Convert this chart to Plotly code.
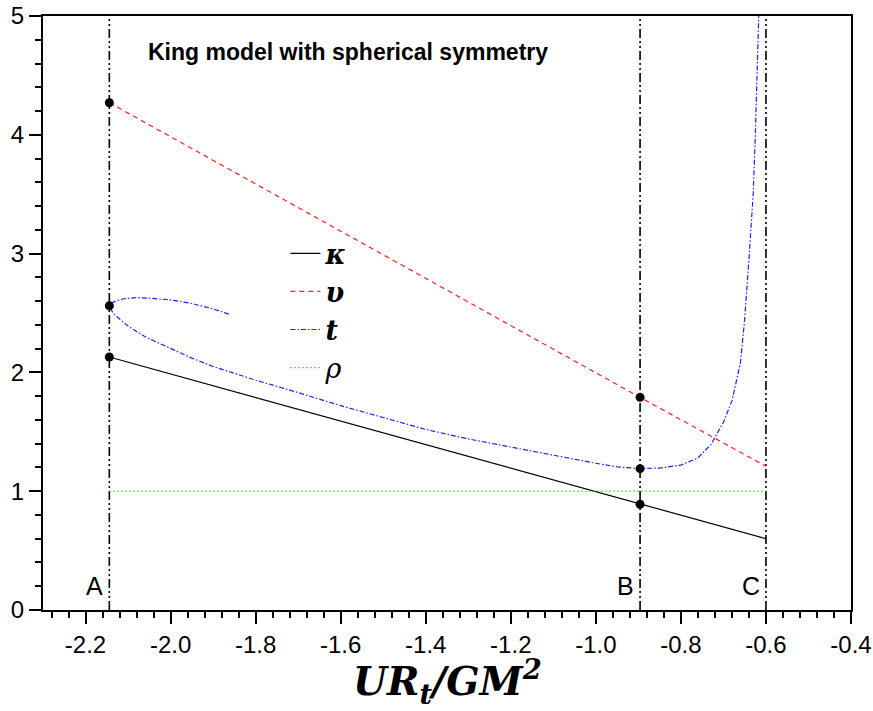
import plotly.graph_objects as go

# ---- data ----
x_A, x_B, x_C = -2.144, -0.896, -0.6
vline_x = [x_A, x_B, x_C]
vline_labels = ["A", "B", "C"]

kappa_x = [-2.144, -0.896, -0.6]
kappa_y = [2.13, 0.89, 0.60]

upsilon_x = [-2.144, -0.896, -0.6]
upsilon_y = [4.27, 1.79, 1.21]

rho_x = [-2.144, -0.6]
rho_y = [1.0, 1.0]

t_x = [-1.863, -1.90, -1.95, -2.00, -2.05, -2.08, -2.11, -2.13, -2.14, -2.144,
       -2.14, -2.135, -2.12, -2.10, -2.06, -2.00, -1.95, -1.90, -1.85, -1.80,
       -1.70, -1.60, -1.50, -1.40, -1.30, -1.20, -1.10, -1.00, -0.95, -0.896,
       -0.85, -0.80, -0.76, -0.73, -0.70, -0.68, -0.66, -0.65, -0.64, -0.63,
       -0.625, -0.62, -0.617]
t_y = [2.49, 2.535, 2.58, 2.61, 2.625, 2.63, 2.62, 2.60, 2.58, 2.56,
       2.53, 2.50, 2.45, 2.39, 2.30, 2.20, 2.12, 2.05, 1.99, 1.935,
       1.83, 1.72, 1.62, 1.52, 1.44, 1.37, 1.30, 1.235, 1.205, 1.19,
       1.195, 1.22, 1.28, 1.39, 1.58, 1.76, 2.08, 2.45, 2.95, 3.5,
       4.0, 4.6, 5.0]

dot_x = [x_A, x_A, x_A, x_B, x_B, x_B]
dot_y = [2.13, 2.56, 4.27, 0.89, 1.19, 1.79]

x_ticks = [-2.2, -2.0, -1.8, -1.6, -1.4, -1.2, -1.0, -0.8, -0.6, -0.4]
x_ticktext = ["-2.2", "-2.0", "-1.8", "-1.6", "-1.4", "-1.2", "-1.0", "-0.8", "-0.6", "-0.4"]
y_ticks = [0, 1, 2, 3, 4, 5]

fig = go.Figure()

# vertical reference lines
for vx in vline_x:
    fig.add_shape(type="line", xref="x", yref="y", x0=vx, x1=vx, y0=0, y1=5,
                  line=dict(color="black", width=1.6, dash="9px,3px,2px,3px,2px,3px"),
                  layer="below")

serif = "DejaVu Serif"
fig.add_trace(go.Scatter(x=kappa_x, y=kappa_y, mode="lines", name="<b><i>κ</i></b>",
                         line=dict(color="black", width=1.2)))
fig.add_trace(go.Scatter(x=upsilon_x, y=upsilon_y, mode="lines", name="<b><i>υ</i></b>",
                         line=dict(color="#ff2020", width=1.2, dash="5px,4px")))
fig.add_trace(go.Scatter(x=t_x, y=t_y, mode="lines", name="<b><i>t</i></b>",
                         line=dict(color="#2020ff", width=1.2, dash="5px,2px,1.5px,2px")))
fig.add_trace(go.Scatter(x=rho_x, y=rho_y, mode="lines", name="<i>ρ</i>",
                         line=dict(color="#20e020", width=1.3, dash="1.5px,2.5px")))
fig.add_trace(go.Scatter(x=dot_x, y=dot_y, mode="markers", showlegend=False,
                         marker=dict(color="black", size=9)))

for vx, lab in zip(vline_x, vline_labels):
    fig.add_annotation(x=vx, y=0.2, xref="x", yref="y", text=lab, showarrow=False,
                       xanchor="right", yanchor="middle", xshift=-4,
                       font=dict(family="Liberation Sans", size=25, color="black"))

fig.add_annotation(x=0.1275, y=0.939, xref="paper", yref="paper",
                   text="<b>King model with spherical symmetry</b>", showarrow=False,
                   xanchor="left", yanchor="middle",
                   font=dict(family="Liberation Sans", size=23, color="black"))

# x-axis title
fig.add_annotation(x=0.5, y=-0.12, xref="paper", yref="paper",
                   text="<b><i>UR<sub>t</sub>/GM<sup>2</sup></i></b>", showarrow=False,
                   xanchor="center", yanchor="middle",
                   font=dict(family=serif, size=39, color="black"))

axis_common = dict(showline=True, linewidth=2, linecolor="black", mirror=True,
                   ticks="outside", ticklen=12, tickwidth=1.6, tickcolor="black",
                   showgrid=False, zeroline=False, automargin=False,
                   ticklabeloverflow="allow",
                   tickfont=dict(family="Liberation Sans", size=24, color="black"))

fig.update_layout(
    width=873, height=711,
    margin=dict(l=43, r=22, t=16, b=101),
    paper_bgcolor="white", plot_bgcolor="white",
    xaxis=dict(range=[-2.3, -0.4], tickvals=x_ticks, ticktext=x_ticktext,
               minor=dict(dtick=0.04, tick0=-2.2, ticks="outside", ticklen=6,
                          tickwidth=1.6, tickcolor="black"),
               **axis_common),
    yaxis=dict(range=[0, 5], tickvals=y_ticks,
               minor=dict(dtick=0.2, tick0=0, ticks="outside", ticklen=6,
                          tickwidth=1.6, tickcolor="black"),
               **axis_common),
    legend=dict(x=0.30, y=0.641, xanchor="left", yanchor="top",
                bgcolor="rgba(0,0,0,0)", font=dict(family=serif, size=27, color="black"),
                tracegroupgap=0, itemwidth=30),
    showlegend=True,
)

# remove the default 8px page margin so the figure fills the window exactly
fig.write_html("out.html", config={"displayModeBar": False},
               post_script="document.body.style.margin='0px';"
               "document.body.style.overflow='hidden';")
